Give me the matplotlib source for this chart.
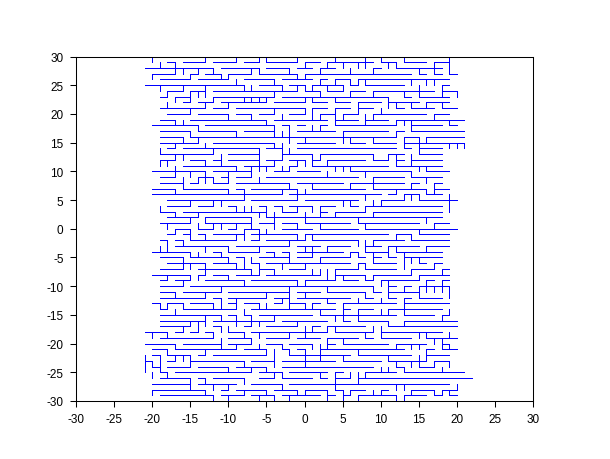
import matplotlib
matplotlib.use("Agg")
import matplotlib.pyplot as plt

plt.rcParams["font.family"] = ["Liberation Sans", "DejaVu Sans"]
plt.rcParams["axes.unicode_minus"] = False

# horizontal runs of the walk, one entry per row: y -> (x start, x end)
h_runs = {
    29: [(-18, -17), (-16, -13), (-12, -9), (-8, -6), (-5, -1), (0, 2), (3, 9), (10, 12), (13, 16), (17, 19)],
    28: [(-21, -12), (-11, -6), (-5, -2), (-1, 1), (2, 4), (9, 10), (12, 18)],
    27: [(-20, -17), (-15, -14), (-13, -11), (-10, -7), (-6, -1), (0, 14), (15, 16), (17, 18), (19, 20)],
    26: [(-19, -15), (-14, -10), (-8, -4), (-3, 1), (2, 3), (4, 6), (7, 19)],
    25: [(-21, -8), (-6, -3), (-2, 0), (1, 5), (6, 7), (8, 13), (18, 19)],
    24: [(-18, -16), (-15, -13), (-12, -1), (0, 2), (3, 5), (6, 8), (9, 17), (18, 20)],
    23: [(-19, -18), (-17, -15), (-12, -4), (-3, 11), (13, 14), (15, 19)],
    22: [(-16, -15), (-14, -12), (-11, -5), (-4, 0), (1, 3), (4, 6), (7, 10), (11, 15), (16, 19)],
    21: [(-19, -13), (-12, -10), (-9, 0), (1, 3), (4, 6), (7, 9), (12, 13), (14, 17), (18, 20)],
    20: [(-18, -15), (-14, -10), (-9, -7), (-6, -4), (-2, 0), (2, 4), (5, 7), (9, 16), (17, 19)],
    19: [(-19, -17), (-15, -5), (-4, 3), (4, 7), (8, 11), (12, 21)],
    18: [(-20, -14), (-13, -4), (-3, -2), (-1, 0), (2, 3), (4, 12), (14, 18), (19, 20)],
    17: [(-19, -15), (-14, -9), (-8, -4), (-1, 4), (5, 11), (12, 13), (14, 21)],
    16: [(-19, -16), (-15, 12), (13, 15), (16, 21)],
    15: [(-19, -14), (-12, -4), (-1, 4), (6, 8), (9, 12), (13, 21)],
    14: [(-18, -17), (-16, -6), (-5, -3), (-1, 12), (13, 14), (15, 18)],
    13: [(-19, -12), (-10, -6), (-3, 1), (2, 9), (11, 13), (15, 18)],
    12: [(-19, -17), (-15, -13), (-12, -11), (-10, -6), (-5, -3), (-2, 0), (1, 2), (3, 8), (9, 11), (12, 13), (14, 18)],
    11: [(-16, -9), (-8, -4), (-2, -1), (1, 11), (12, 18)],
    10: [(-20, -13), (-12, -7), (-4, -2), (-1, 2), (6, 14), (16, 19)],
    9: [(-19, -17), (-14, -12), (-11, -10), (-9, -7), (-5, 7), (9, 13), (14, 18)],
    8: [(-19, -16), (-15, -14), (-12, -10), (-9, -2), (-1, 5), (6, 13), (14, 15), (17, 18)],
    7: [(-20, -17), (-16, -10), (-9, -8), (-7, -1), (1, 8), (9, 16), (17, 19)],
    6: [(-20, -3), (-2, 10), (11, 12), (13, 15), (16, 18)],
    5: [(-18, -8), (-7, -1), (0, 7), (10, 13), (15, 20)],
    4: [(-18, -15), (-14, -12), (-10, -9), (-6, -5), (-4, -3), (-2, 1), (2, 4), (6, 7), (8, 18)],
    3: [(-19, -17), (-16, -5), (-3, -1), (2, 3), (4, 8), (9, 18)],
    2: [(-18, -14), (-13, -7), (-5, 18)],
    1: [(-19, -15), (-13, -7), (-6, -4), (-3, -1), (0, 6), (7, 15), (17, 19)],
    0: [(-17, -15), (-14, -12), (-10, -9), (-8, -6), (-3, 1), (2, 7), (8, 20)],
    -1: [(-18, -17), (-16, -15), (-14, -13), (-12, -8), (-7, -1), (0, 11), (12, 14), (15, 19)],
    -2: [(-19, -18), (-17, -16), (-15, -9), (-7, -6), (-5, 0), (1, 7), (9, 13), (14, 19)],
    -3: [(-17, -10), (-9, -2), (-1, 2), (3, 6), (8, 10), (11, 15), (16, 19)],
    -4: [(-20, -15), (-12, -11), (-10, -6), (-5, -4), (-3, -2), (-1, 5), (6, 7), (8, 11), (12, 18)],
    -5: [(-19, -16), (-15, -10), (-9, -8), (-6, -2), (-1, 1), (2, 6), (7, 8), (9, 10), (11, 12), (13, 18)],
    -6: [(-18, -13), (-12, -9), (-7, -6), (-5, 6), (7, 8), (9, 12), (15, 16), (17, 18)],
    -7: [(-19, -16), (-14, -7), (-6, -4), (-2, 0), (4, 7), (8, 12), (14, 17), (18, 19)],
    -8: [(-20, -15), (-14, -13), (-12, -10), (-9, -6), (-5, 2), (4, 8), (9, 14), (15, 19)],
    -9: [(-19, -18), (-17, -15), (-13, -8), (-7, -1), (0, 4), (5, 7), (8, 9), (10, 15), (16, 17), (18, 19)],
    -10: [(-19, -16), (-15, 9), (11, 12), (13, 14), (15, 19)],
    -11: [(-19, -17), (-16, -11), (-10, -2), (-1, 2), (3, 8), (9, 10), (11, 15)],
    -12: [(-19, -13), (-12, -11), (-10, -5), (-4, -2), (-1, 6), (8, 9), (11, 12), (13, 14), (15, 18)],
    -13: [(-20, -19), (-18, -16), (-15, -12), (-10, -9), (-8, -6), (-4, -3), (-2, 0), (1, 2), (3, 4), (5, 12), (13, 19)],
    -14: [(-19, -18), (-16, -9), (-7, 4), (5, 6), (7, 9), (11, 18)],
    -15: [(-19, -11), (-10, -9), (-8, -7), (-6, 1), (2, 12), (13, 17), (18, 19)],
    -16: [(-19, -13), (-12, -4), (-3, 3), (5, 6), (7, 11), (13, 20)],
    -17: [(-19, -15), (-12, -11), (-8, -7), (-5, -1), (1, 2), (3, 8), (11, 20)],
    -18: [(-21, -18), (-17, -16), (-15, -14), (-13, -12), (-10, -8), (-7, 3), (4, 9), (10, 18)],
    -19: [(-19, -12), (-10, -7), (-5, -2), (-1, 2), (3, 7), (8, 9), (10, 14), (16, 20)],
    -20: [(-21, -17), (-16, -11), (-10, -7), (-5, -3), (-2, 1), (3, 4), (5, 11), (12, 16), (18, 19)],
    -21: [(-20, -18), (-17, -9), (-8, -5), (-3, -2), (-1, 0), (2, 13), (16, 17), (18, 20)],
    -22: [(-20, -19), (-18, -15), (-14, -13), (-12, -5), (-2, 6), (7, 14), (16, 19)],
    -23: [(-21, -20), (-18, -17), (-15, -8), (-7, -4), (-3, 4), (5, 10), (11, 16), (17, 19)],
    -24: [(-20, -19), (-18, -15), (-14, -10), (-9, -5), (-3, 9), (12, 13), (15, 17)],
    -25: [(-19, -18), (-17, -7), (-6, -3), (-2, 3), (4, 5), (8, 12), (13, 21)],
    -26: [(-19, -15), (-14, -13), (-12, -8), (-6, -4), (-3, 1), (2, 3), (4, 6), (7, 22)],
    -27: [(-20, -15), (-14, -9), (-7, -3), (-2, 19)],
    -28: [(-20, -13), (-11, -10), (-9, -5), (-4, -1), (0, 3), (4, 5), (6, 8), (10, 11), (14, 17), (18, 20)],
    -29: [(-19, -12), (-11, -8), (-7, -4), (-3, 2), (3, 4), (5, 6), (7, 12), (13, 16), (17, 18), (19, 20)],
}

# vertical steps: upper y -> x positions of a step from y down to y-1
v_steps = {
    30: [-20, -13, -9, -6, -5, -1, 4, 8, 10, 13, 19],
    29: [-19, -17, 0, 3, 5, 7, 8, 11, 12, 17, 19],
    28: [-17, -16, -14, -12, -7, -6, -2, 2, 6, 9, 15, 17, 19],
    27: [-20, -15, -11, -10, -1, 0],
    26: [-9, -4, 2, 4, 6, 7, 8, 14, 16, 17],
    25: [-19, -16, -13, -8, -7, -3, -1, 0, 1, 3, 5, 15, 18],
    24: [-18, -15, -14, -13, -4, 2, 6, 9, 13, 15, 18, 20],
    23: [-17, -15, -12, -8, -7, -6, -5, 0, 1, 4, 11],
    22: [-18, -13, -10, 7, 11, 12, 14, 16, 18],
    21: [-15, -4, 0, 1, 4, 7, 10],
    20: [-10, -7, -3, 1, 2, 4, 5, 8, 9, 17],
    19: [-17, -16, -5, 4, 8, 12, 13, 14, 19],
    18: [-14, -4, -2, 1, 2, 14],
    17: [-15, -9, -4, -3, -2, 5, 12],
    16: [-16, -14, -2, 0, 5, 6, 9, 13, 15, 16],
    15: [-17, -13, -4, -3, 13, 15, 19, 20, 21],
    14: [-19, -12, -6, -3, -2, 15],
    13: [-17, -16, -11, -6, -3, 1, 2, 9, 11, 12, 14],
    12: [-19, -18, -13, -11, -6, -4, -1, 0, 1, 3, 12, 14],
    11: [-17, -9, -7, -6, -5, -3, -2, 4, 5, 6, 15, 16],
    10: [-17, -15, -13, -10, -7, 3, 8, 14],
    9: [-16, -14, -13, -12, -10, -6, 9, 16],
    8: [-16, -2, 1, 6, 9, 14, 17],
    7: [-17, -10, -8, -3, -1, 0, 12, 16, 17],
    6: [-8, -1, 8, 13, 14, 15, 19],
    5: [-15, -12, -11, 5, 6, 9, 10, 19],
    4: [-19, -9, -8, -7, -5, -3, -1, 1, 2, 8, 19],
    3: [-17, -14, -6, -5, -4, 0, 2, 4, 9],
    2: [-15, -13, -7, -4, 0, 7, 16],
    1: [-18, -14, -12, -11, -9, -7, -4, -1, 2, 8, 17],
    0: [-17, -15, -8, -6, -5, 15],
    -1: [-15, -13, -9, -8, -6, -1, 0, 1, 12, 14],
    -2: [-18, -16, -2, 7, 8, 9],
    -3: [-19, -18, -13, -10, -6, 0, 1, 3, 8, 11, 12, 16],
    -4: [-15, -14, -11, -4, -2, 1, 6, 7, 9, 11, 13],
    -5: [-16, -10, -8, -7, -2, 2, 9, 13, 14, 15],
    -6: [-16, -15, -13, -9, -8, -6, -3, 0, 7, 8, 13, 17],
    -7: [-13, -7, -6, -4, 1, 2, 3, 4, 14, 18],
    -8: [-18, -15, -14, -10, 3, 4, 5, 8, 9, 15],
    -9: [-16, -8, -1, 0, 10, 11, 16, 18],
    -10: [-11, -2, 3, 9, 11, 13, 15, 16, 17, 18, 19],
    -11: [-17, -13, -5, -2, 0, 8, 11, 15, 19],
    -12: [-11, -9, -3, -2, 3, 7, 10, 13],
    -13: [-19, -18, -16, -12, -11, -9, -6, -5, -2, 0, 1, 5, 13],
    -14: [-17, -8, 2, 5, 7, 10, 11, 13, 19],
    -15: [-13, -11, -9, -7, -4, 4, 5, 7, 18],
    -16: [-15, -14, -13, -9, -7, -6, -1, 11, 13],
    -17: [-16, -14, -11, -10, 0, 1, 3, 4, 9, 10],
    -18: [-20, -18, -12, -8, -6, -2, 0, 8, 10, 15, 16, 19],
    -19: [-11, -7, 3, 5, 17, 18],
    -20: [-17, -11, -9, -6, -3, 1, 2, 3, 12, 14, 15, 18, 19],
    -21: [-18, -13, -5, -4, -2, 0, 2, 7, 16],
    -22: [-21, -19, -17, -16, -15, -4, 0, 2, 5, 11, 15, 16],
    -23: [-21, -20, -19, -15, -8, -4, 0, 12, 14, 15, 17, 19],
    -24: [-21, -19, -10, -7, -5, 10, 11, 13, 18],
    -25: [-20, -18, -4, -3, 2, 4, 6, 7, 8],
    -26: [-15, -13, -8, 4, 7],
    -27: [-15, -12, -10, -3, 4, 12, 13, 20],
    -28: [-20, -13, -8, -5, -1, 0, 3, 5, 6, 9, 10, 14, 17, 18, 19],
    -29: [-12, -10, -6, -4, -2, 3, 5, 7, 12, 13],
}

tick_vals = [-30, -25, -20, -15, -10, -5, 0, 5, 10, 15, 20, 25, 30]

fig = plt.figure(figsize=(6.1, 4.6), dpi=100)
ax = fig.add_axes([76 / 610, 1 - 402 / 460, 457 / 610, 344.5 / 460])

for y, runs in h_runs.items():
    for x0, x1 in runs:
        ax.plot([x0, x1], [y, y], color="#0000ff", lw=0.7, solid_capstyle="butt", antialiased=False)

for y, xs in v_steps.items():
    for x in xs:
        ax.plot([x, x], [y, y - 1], color="#0000ff", lw=0.7, solid_capstyle="butt", antialiased=False)

ax.set_xlim(-30, 30)
ax.set_ylim(-30, 30)
ax.set_xticks(tick_vals)
ax.set_yticks(tick_vals)
ax.tick_params(length=4, width=0.75, labelsize=8.5, pad=5, color="black")
for side in ax.spines:
    ax.spines[side].set_linewidth(0.75)

fig.savefig("out.png", dpi=100)
